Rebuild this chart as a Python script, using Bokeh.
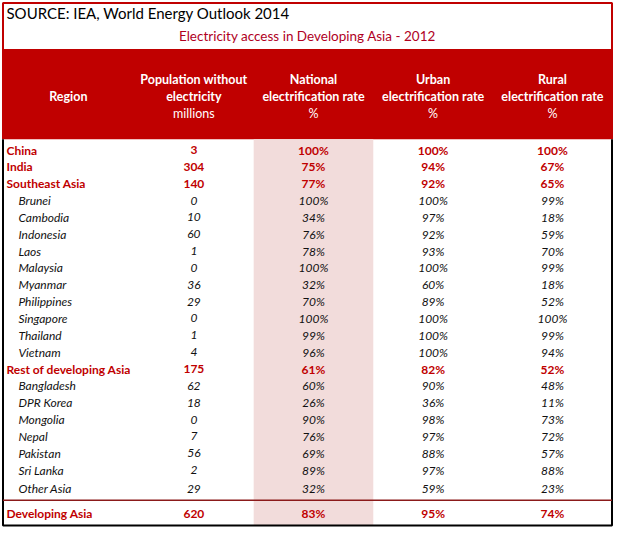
from bokeh.plotting import figure
from bokeh.models import ColumnDataSource, Range1d
from bokeh.core.properties import value
from bokeh.embed import file_html
from bokeh.resources import INLINE

source_note = "SOURCE: IEA, World Energy Outlook 2014"
subtitle = "Electricity access in Developing Asia - 2012"

header_bold = [["Region"], ["Population without", "electricity"], ["National", "electrification rate"],
               ["Urban", "electrification rate"], ["Rural", "electrification rate"]]
header_unit = ["", "millions", "%", "%", "%"]

regions = ["China", "India", "Southeast Asia", "Brunei", "Cambodia", "Indonesia", "Laos",
           "Malaysia", "Myanmar", "Philippines", "Singapore", "Thailand", "Vietnam",
           "Rest of developing Asia", "Bangladesh", "DPR Korea", "Mongolia", "Nepal",
           "Pakistan", "Sri Lanka", "Other Asia", "Developing Asia"]
aggregate = [True, True, True, False, False, False, False, False, False, False, False, False,
             False, True, False, False, False, False, False, False, False, True]
population = [3, 304, 140, 0, 10, 60, 1, 0, 36, 29, 0, 1, 4, 175, 62, 18, 0, 7, 56, 2, 29, 620]
national = [100, 75, 77, 100, 34, 76, 78, 100, 32, 70, 100, 99, 96, 61, 60, 26, 90, 76, 69, 89, 32, 83]
urban = [100, 94, 92, 100, 97, 92, 93, 100, 60, 89, 100, 100, 100, 82, 90, 36, 98, 97, 88, 97, 59, 95]
rural = [100, 67, 65, 99, 18, 59, 70, 99, 18, 52, 100, 99, 94, 52, 48, 11, 73, 72, 57, 88, 23, 74]

RED = "#C00000"
FONT = value("Lato")

p = figure(width=613, height=528, output_backend="svg", toolbar_location=None,
           x_range=Range1d(3, 618), y_range=Range1d(535, 2), min_border=0)
p.axis.visible = False
p.grid.visible = False
p.outline_line_color = None
p.background_fill_color = "white"
p.border_fill_color = "white"

# layout
L, R = 5.5, 616.5
col_edges = [5.5, 137, 257, 377, 497, 616.5]
col_centers = [(col_edges[i] + col_edges[i + 1]) / 2 for i in range(5)]
col_centers[0] = 71

# title box
p.quad(left=[L], right=[R], top=[4.5], bottom=[52], fill_color="white",
       line_color=RED, line_width=2)
# header band
p.quad(left=[L - 1], right=[R + 1], top=[52], bottom=[142], fill_color=RED, line_color=None)
# national column shading
p.quad(left=[col_edges[2]], right=[col_edges[3]], top=[142], bottom=[531.5],
       fill_color="#F2DCDB", line_color=None)
# body frame
p.line(x=[L, L, R, R], y=[142, 532, 532, 142], line_color="black", line_width=2)
# separator above total row
p.line(x=[L, R], y=[506.5, 506.5], line_color="#8B1A1A", line_width=1.5)

p.text(x=[9], y=[15], text=[source_note], text_font=FONT, text_font_size="15px",
       text_color="black", text_baseline="middle", text_align="left")
p.text(x=[(L + R) / 2], y=[38], text=[subtitle], text_font=FONT, text_font_size="13.5px",
       text_color="#B0001E", text_baseline="middle", text_align="center")

# header text
hx, hy, ht, hs = [], [], [], []
for i, lines in enumerate(header_bold):
    if len(lines) == 1:
        hx.append(col_centers[i]); hy.append(99); ht.append(lines[0]); hs.append("bold")
    else:
        for j, t in enumerate(lines):
            hx.append(col_centers[i]); hy.append(82 + 17 * j); ht.append(t); hs.append("bold")
    if header_unit[i]:
        hx.append(col_centers[i]); hy.append(116); ht.append(header_unit[i]); hs.append("normal")
p.text(x="x", y="y", text="t", source=ColumnDataSource(dict(x=hx, y=hy, t=ht, s=hs)),
       text_font=FONT, text_font_style="s", text_font_size="12.5px", text_color="white",
       text_align="center", text_baseline="middle")

# body rows
n = len(regions)
row_y = [153 + 17 * i for i in range(n - 2)] + [495, 520]
styles = ["bold" if a else "italic" for a in aggregate]
colors = [RED if a else "#111111" for a in aggregate]
name_x = [9 if a else 21 for a in aggregate]

src = ColumnDataSource(dict(
    y=row_y, name=regions, nx=name_x, s=styles, c=colors,
    pop=[str(v) for v in population],
    nat=[f"{v}%" for v in national],
    urb=[f"{v}%" for v in urban],
    rur=[f"{v}%" for v in rural],
))
common = dict(source=src, text_font=FONT, text_font_style="s", text_font_size="12px",
              text_color="c", text_baseline="middle")
p.text(x="nx", y="y", text="name", text_align="left", **common)
for field, cx in zip(["pop", "nat", "urb", "rur"], col_centers[1:]):
    p.text(x=cx, y="y", text=field, text_align="center", **common)

open("out.html", "w").write(file_html(p, INLINE))
